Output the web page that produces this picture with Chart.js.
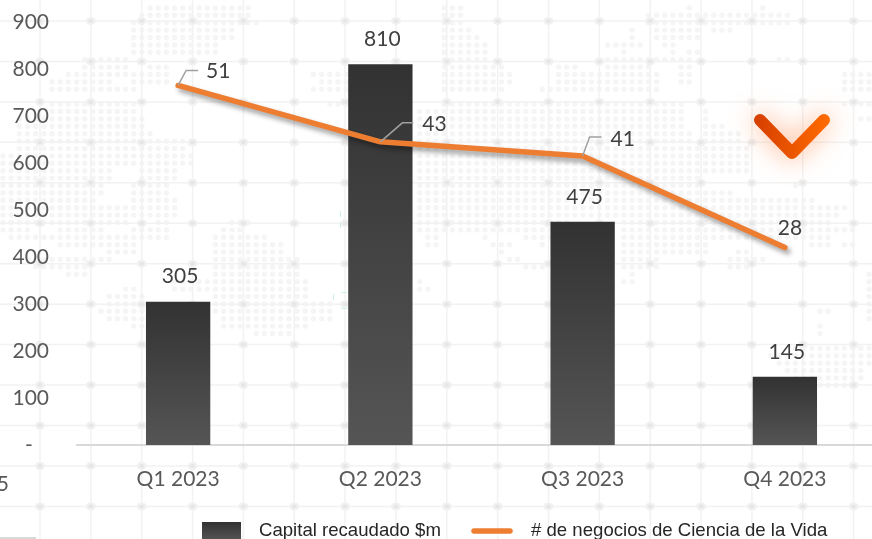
<!DOCTYPE html>
<html lang="es">
<head>
<meta charset="utf-8">
<title>Capital recaudado y negocios de Ciencia de la Vida</title>
<script src="https://cdn.jsdelivr.net/npm/chart.js@4/dist/chart.umd.min.js"></script>
<style>
  html, body { margin: 0; padding: 0; background: #fff; overflow: hidden; }
  #wrap { width: 872px; height: 539px; overflow: hidden; position: relative; }
  canvas { display: block; }
</style>
</head>
<body>
<div id="wrap"><canvas id="chart" width="886" height="539"></canvas></div>
<script>
const quarters = ["Q1 2023", "Q2 2023", "Q3 2023", "Q4 2023"];
const capital = [305, 810, 475, 145];
const deals = [51, 43, 41, 28];
const capitalLabel = "Capital recaudado $m";
const dealsLabel = "# de negocios de Ciencia de la Vida";

const FONT = "Lato, sans-serif";
const ORANGE = "#ed7d31";

// label offsets from the point, leader is [elbow, end] when there is one
const dealLabels = [
  { dx: 40, dy: -14, leader: [[8, -15], [20, -15]] },
  { dx: 54, dy: -18, leader: [[22, -19], [33, -19]] },
  { dx: 40, dy: -17, leader: [[7, -19], [19, -19]] },
  { dx: 5, dy: -19 },
];

// background map dots: y, then x start/end pairs
const mapRows = [
  [5,140,250,438,458,680,690,755,760],[12,138,250,436,458,643,785],[20,130,255,436,460,643,790],
  [28,130,230,436,470,625,635,650,700,708,735],[36,130,230,436,475,625,635,650,700],[44,130,215,436,490,600,640,660,670],
  [52,130,215,436,490,615,625,665,670,680,695],[60,80,125,436,490,600,690,772,786],[68,80,125,140,165,436,500,555,575,600,650,675,690],
  [76,65,125,105,165,310,345,436,510,555,660,675,690,770,775,840,872],[84,48,110,130,165,315,345,436,510,555,660,675,690,840,872],
  [92,48,135,310,345,436,505,535,660,840,872],[100,48,135,320,345,436,680,840,872],[108,48,135,413,680,700,705],[116,15,145,413,680,700,705,850,872],
  [124,15,145,413,680,700,720],[132,15,150,413,690,700,740],[140,15,180,413,690,700,740],[148,15,180,413,745],[156,0,195,413,745],
  [164,0,195,413,745],[172,0,110,135,175,413,745],[180,0,110,135,175,413,700],[188,0,100,125,170,413,700,790,800],[195,0,100,125,170,413,735],
  [201,0,95,125,175,413,815],[208,0,95,55,175,413,845],[216,0,175,413,835],[223,0,125,150,170,225,250,413,570,617,830],
  [231,0,30,55,100,125,165,220,245,413,570,617,850],[238,5,165,210,265,420,435,480,485,515,570,617,833],[245,55,135,210,280,420,435,490,510,535,540,575,580,617,703,803,833,840,850],
  [253,105,135,210,280,495,505,617,705,733,745],[260,15,110,210,295,505,515,617,660,725,760],[267,25,85,210,300,515,545,617,660,725,745],
  [274,50,50,65,85,210,300,625,635,860,872],[282,75,75,170,305,410,420,617,635,860,872],[289,120,135,165,305,413,425,617,620,860,872],
  [297,105,145,210,305,860,872],[304,105,145,210,330,860,872],[311,95,145,210,330,815,830,860,872],[318,105,145,215,330,860,872],
  [326,130,145,220,305,810,820],[333,250,290,810,820],[348,787,872],[356,765,872],[363,770,872],[371,780,865],[378,790,860],[386,800,850],
];

function drawBackdrop(ctx) {
  const W = 886, H = 539;
  // map dots
  ctx.fillStyle = "#f5f5f5";
  mapRows.forEach((row) => {
    const y = Math.round(row[0] / 7.4) * 7.4 + 0.5;
    for (let i = 1; i < row.length; i += 2) {
      for (let k = Math.ceil(row[i] / 8.17); k * 8.17 <= row[i + 1]; k++) {
        ctx.beginPath();
        ctx.arc(k * 8.17 + 3, y, 2.7, 0, Math.PI * 2);
        ctx.fill();
      }
    }
  });
  // grid lines + nodes
  ctx.strokeStyle = "#f2f2f2";
  ctx.lineWidth = 1.5;
  for (let x = 40; x < W; x += 50.85) { ctx.beginPath(); ctx.moveTo(x, 0); ctx.lineTo(x, H); ctx.stroke(); }
  for (let y = 21; y < H; y += 40.45) { ctx.beginPath(); ctx.moveTo(0, y); ctx.lineTo(W, y); ctx.stroke(); }
  for (let x = 40; x < W; x += 50.85) {
    for (let y = 21; y < H; y += 40.45) {
      ctx.fillStyle = "#f1f1f1";
      ctx.beginPath(); ctx.ellipse(x, y, 5, 4, 0, 0, Math.PI * 2); ctx.fill();
      ctx.fillStyle = "#e6e6e6";
      ctx.beginPath(); ctx.ellipse(x, y, 2.5, 2, 0, 0, Math.PI * 2); ctx.fill();
    }
  }
  // leftovers of the slide around the chart
  ctx.fillStyle = "#cdf3e8";
  ctx.fillRect(340, 211, 1, 6); ctx.fillRect(340, 222, 1, 6);
  ctx.fillRect(333, 294, 1, 6); ctx.fillRect(341, 292, 6, 1); ctx.fillRect(341, 308, 6, 1);
  ctx.fillStyle = "#d9d9d9";
  ctx.fillRect(0, 537, 36, 2);
  ctx.fillStyle = "#595959";
  ctx.font = `21px ${FONT}`;
  ctx.textAlign = "right";
  ctx.textBaseline = "middle";
  ctx.fillText("5", 9, 484);
}

function drawChevron(ctx) {
  const g = ctx.createLinearGradient(756, 0, 828, 0);
  g.addColorStop(0, "#d64000");
  g.addColorStop(1, "#ff6a00");
  ctx.save();
  ctx.lineCap = "round";
  ctx.lineJoin = "round";
  ctx.lineWidth = 12;
  ctx.strokeStyle = g;
  ctx.shadowColor = "rgba(255,90,0,.5)";
  ctx.shadowBlur = 26;
  ctx.beginPath();
  ctx.moveTo(760, 120);
  ctx.lineTo(792, 153);
  ctx.lineTo(824, 120);
  ctx.stroke();
  ctx.restore();
}

const backdrop = {
  id: "backdrop",
  beforeDraw(chart) {
    drawBackdrop(chart.ctx);
    drawChevron(chart.ctx);
  },
};

// soft shadow under the line only
const lineShadow = {
  id: "lineShadow",
  beforeDatasetDraw(chart, args) {
    if (args.index !== 1) return;
    const c = chart.ctx;
    c.save();
    c.shadowColor = "rgba(0,0,0,.38)";
    c.shadowBlur = 5;
    c.shadowOffsetX = 3;
    c.shadowOffsetY = 4;
  },
  afterDatasetDraw(chart, args) {
    if (args.index === 1) chart.ctx.restore();
  },
};

const valueLabels = {
  id: "valueLabels",
  afterDatasetsDraw(chart) {
    const c = chart.ctx;
    c.save();
    c.font = `21px ${FONT}`;
    c.fillStyle = "#404040";
    c.textAlign = "center";
    c.textBaseline = "middle";
    chart.getDatasetMeta(0).data.forEach((bar, i) => {
      c.fillText(String(capital[i]), bar.x + 2, bar.y - 25);
    });
    chart.getDatasetMeta(1).data.forEach((pt, i) => {
      const l = dealLabels[i];
      if (l.leader) {
        c.strokeStyle = "#a0a0a0";
        c.lineWidth = 1.5;
        c.beginPath();
        c.moveTo(pt.x, pt.y);
        l.leader.forEach((p) => c.lineTo(pt.x + p[0], pt.y + p[1]));
        c.stroke();
      }
      c.fillText(String(deals[i]), pt.x + l.dx, pt.y + l.dy);
    });
    c.restore();
  },
};

const legendRow = {
  id: "legendRow",
  afterDraw(chart) {
    const c = chart.ctx;
    c.save();
    const g = c.createLinearGradient(0, 522, 0, 540);
    g.addColorStop(0, "#323232");
    g.addColorStop(1, "#555555");
    c.fillStyle = g;
    c.fillRect(202, 522, 39, 18);
    c.strokeStyle = ORANGE;
    c.lineWidth = 5.5;
    c.lineCap = "round";
    c.beginPath();
    c.moveTo(474, 531);
    c.lineTo(510, 531);
    c.stroke();
    c.font = "18.6px 'Liberation Sans', sans-serif";
    c.fillStyle = "#262626";
    c.textAlign = "left";
    c.textBaseline = "middle";
    c.fillText(chart.data.datasets[0].label, 259, 531);
    c.fillText(chart.data.datasets[1].label, 531, 531);
    c.restore();
  },
};

function barFill(context) {
  const { chart, parsed } = context;
  const area = chart.chartArea;
  if (!area || !parsed) return "#444444";
  const g = chart.ctx.createLinearGradient(0, chart.scales.y.getPixelForValue(parsed.y), 0, area.bottom);
  g.addColorStop(0, "#323232");
  g.addColorStop(1, "#555555");
  return g;
}

new Chart(document.getElementById("chart"), {
  data: {
    labels: quarters,
    datasets: [
      {
        type: "bar", label: capitalLabel, data: capital, yAxisID: "y", order: 1,
        backgroundColor: barFill, barPercentage: 0.318, categoryPercentage: 1,
      },
      {
        type: "line", label: dealsLabel, data: deals, yAxisID: "y1", order: 0,
        borderColor: ORANGE, borderWidth: 5.5, borderCapStyle: "round", borderJoinStyle: "round",
        tension: 0, pointRadius: 0, clip: false,
      },
    ],
  },
  options: {
    responsive: false,
    animation: false,
    layout: { padding: { top: 22, left: 0, right: 0, bottom: 0 } },
    plugins: { legend: { display: false }, tooltip: { enabled: false } },
    scales: {
      x: {
        grid: { display: false },
        border: { color: "#d9d9d9", width: 2 },
        ticks: { color: "#595959", font: { family: FONT, size: 21 }, padding: 14, maxRotation: 0 },
        afterFit(s) { s.height = 94; s.paddingLeft = 0; s.paddingRight = 0; },
      },
      y: {
        min: 0, max: 900,
        grid: { display: false },
        border: { display: false },
        ticks: {
          stepSize: 100, color: "#595959", font: { family: FONT, size: 21 }, padding: 20,
          callback: (v) => (v === 0 ? "-   " : v),
        },
        afterFit(s) { s.width = 77; s.paddingTop = 0; s.paddingBottom = 0; },
      },
      y1: { display: false, min: 0, max: 60, afterFit(s) { s.paddingTop = 0; s.paddingBottom = 0; } },
    },
  },
  plugins: [backdrop, lineShadow, valueLabels, legendRow],
});
</script>
</body>
</html>
